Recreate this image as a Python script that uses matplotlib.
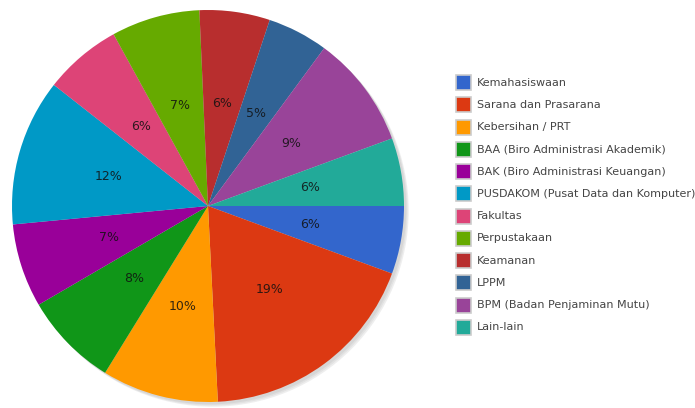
import matplotlib.pyplot as plt
from matplotlib.patches import Rectangle, Circle

# slices, clockwise from 3 o'clock (percent)
labels = ['Kemahasiswaan', 'Sarana dan Prasarana', 'Kebersihan / PRT',
          'BAA (Biro Administrasi Akademik)', 'BAK (Biro Administrasi Keuangan)',
          'PUSDAKOM (Pusat Data dan Komputer)', 'Fakultas', 'Perpustakaan',
          'Keamanan', 'LPPM', 'BPM (Badan Penjaminan Mutu)', 'Lain-lain']
values = [5.6, 18.6, 9.6, 7.8, 6.9, 12.1, 6.4, 7.3, 5.8, 5.0, 9.3, 5.6]
colors = ['#3366CC', '#DC3912', '#FF9900', '#109618', '#990099', '#0099C6',
          '#DD4477', '#66AA00', '#B82E2E', '#316395', '#994499', '#22AA99']

W, H = 695, 408
fig = plt.figure(figsize=(W / 100, H / 100), dpi=100)

# pie: centre (208, 206) px, radius 196 px
cx, cy, r = 208, 206, 196
ax = fig.add_axes([(cx - r) / W, (H - cy - r) / H, 2 * r / W, 2 * r / H])

# soft shadow down-right
for i, a in enumerate([0.10, 0.10, 0.12]):
    off = 0.012 + 0.006 * i
    ax.add_patch(Circle((off, -off), 1.0, facecolor='#777777', alpha=a,
                        edgecolor='none', zorder=0, clip_on=False))

wedges, texts, autotexts = ax.pie(values, colors=colors, startangle=0,
                                  counterclock=False, autopct='%.0f%%',
                                  pctdistance=0.53, radius=1.0,
                                  wedgeprops=dict(linewidth=0))
for t in autotexts:
    t.set_fontsize(9)
    t.set_color('#111111')
    t.set_alpha(0.85)
ax.set_xlim(-1.0, 1.0)
ax.set_ylim(-1.0, 1.0)
ax.set_aspect('equal')
ax.axis('off')

# legend drawn by hand to match the boxes
y0, dy = 82.5, 22.27
for i in range(len(labels)):
    y = y0 + i * dy
    fig.patches.append(Rectangle((456 / W, 1 - (y + 7.5) / H), 15 / W, 15 / H,
                                 transform=fig.transFigure, facecolor=colors[i],
                                 edgecolor='#cccccc', linewidth=1.2))
    fig.text(477 / W, 1 - y / H, labels[i], fontsize=8, color='#444444',
             va='center', ha='left')

fig.savefig('out.png', dpi=100)
